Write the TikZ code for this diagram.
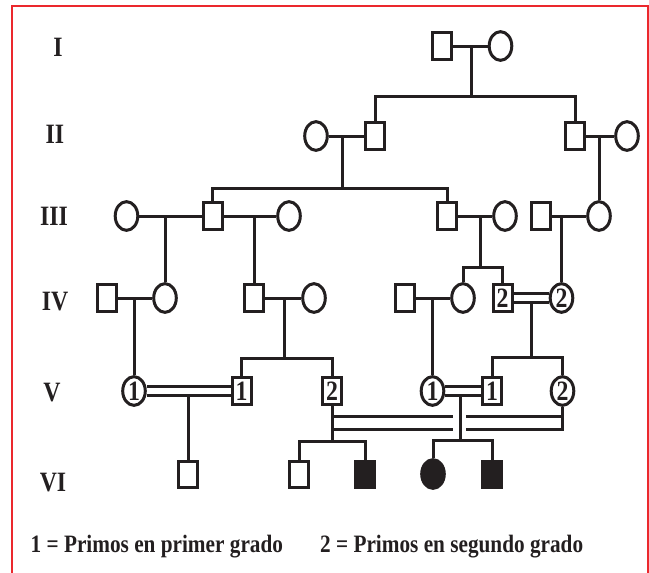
\documentclass[tikz,border=0pt]{standalone}
\usepackage{fontspec}
\newfontfamily\tnr[FakeStretch=0.85]{Liberation Serif}
\usetikzlibrary{shapes.geometric}
\definecolor{ink}{RGB}{35,31,32}
\definecolor{frame}{RGB}{235,40,45}
\begin{document}
\begin{tikzpicture}[x=1pt,y=-1pt,
  lnk/.style={draw=ink, line width=3pt},
  sq/.style={draw=ink, line width=3pt, rectangle, minimum width=19pt, minimum height=26.3pt, inner sep=0pt, fill=white, text=ink, font=\tnr\bfseries\fontsize{28}{30}\selectfont},
  ci/.style={draw=ink, line width=3pt, ellipse, minimum width=22.6pt, minimum height=28.7pt, inner sep=0pt, fill=white, text=ink, font=\tnr\bfseries\fontsize{28}{30}\selectfont},
  aff/.style={fill=ink},
  gen/.style={anchor=base, inner sep=0pt, text=ink, font=\tnr\bfseries\fontsize{28}{30}\selectfont},
  leg/.style={anchor=base west, inner sep=0pt, text=ink, font=\tnr\bfseries\fontsize{25}{27}\selectfont}]
\useasboundingbox (0,0) rectangle (649,573);
\draw[frame, line width=1.6pt] (12,573) -- (12,6) -- (647.9,6) -- (647.9,573);

% generation labels
\node[gen] (gI) at (58,56) {I};
\node[gen] (gII) at (55,143) {II};
\node[gen] (gIII) at (54,225) {III};
\node[gen] (gIV) at (55,310.5) {IV};
\node[gen] (gV) at (52,401.5) {V};
\node[gen] (gVI) at (53,491.5) {VI};

% Gen I
\node[sq] (I1) at (441.5,46) {};
\node[ci] (I2) at (500.5,46) {};
% Gen II
\node[ci] (II1) at (316,136) {};
\node[sq] (II2) at (375,136) {};
\node[sq] (II3) at (575,136) {};
\node[ci] (II4) at (627,136) {};
% Gen III
\node[ci] (III1) at (126.5,216) {};
\node[sq] (III2) at (212.5,216) {};
\node[ci] (III3) at (289,216) {};
\node[sq] (III4) at (447,216) {};
\node[ci] (III5) at (505,216) {};
\node[sq] (III6) at (541,216) {};
\node[ci] (III7) at (599,216) {};
% Gen IV
\node[sq] (IV1) at (107,298) {};
\node[ci] (IV2) at (165,298) {};
\node[sq] (IV3) at (254,298) {};
\node[ci] (IV4) at (314,298) {};
\node[sq] (IV5) at (405,298) {};
\node[ci] (IV6) at (463,298) {};
\node[sq] (IV7) at (502.5,298) {2};
\node[ci] (IV8) at (561.5,298) {2};
% Gen V
\node[ci] (V1) at (134,391) {1};
\node[sq] (V2) at (241.5,391) {1};
\node[sq] (V3) at (332,391) {2};
\node[ci] (V4) at (432.5,391) {1};
\node[sq] (V5) at (492,391) {1};
\node[ci] (V6) at (562.5,391) {2};
% Gen VI
\node[sq] (VI1) at (188,474.5) {};
\node[sq] (VI2) at (299,474.5) {};
\node[sq,aff] (VI3) at (365,474.5) {};
\node[ci,aff] (VI4) at (433,474) {};
\node[sq,aff] (VI5) at (492,474.5) {};

% Gen I links
\draw[lnk] (I1) -- (I2);
\coordinate (mI) at (471,46);
\coordinate (sI) at (471,96);
\draw[lnk] (mI) -- (sI);
\draw[lnk] (II2.north) |- (sI) -| (II3.north);

% Gen II links
\draw[lnk] (II1) -- (II2);
\draw[lnk] (II3) -- (II4);
\coordinate (mII1) at (342,136);
\coordinate (sII1) at (342,188);
\draw[lnk] (mII1) -- (sII1);
\draw[lnk] (III2.north) |- (sII1) -| (III4.north);
\coordinate (mII2) at (599,136);
\draw[lnk] (mII2) -- (III7.north);

% Gen III links
\draw[lnk] (III1) -- (III2);
\draw[lnk] (III2) -- (III3);
\draw[lnk] (III4) -- (III5);
\draw[lnk] (III6) -- (III7);
\coordinate (mIII1) at (165,216);
\draw[lnk] (mIII1) -- (IV2.north);
\coordinate (mIII2) at (254,216);
\draw[lnk] (mIII2) -- (IV3.north);
\coordinate (mIII3) at (480,216);
\coordinate (sIII3) at (480,267);
\draw[lnk] (mIII3) -- (sIII3);
\draw[lnk] (IV6.north) |- (sIII3) -| (IV7.north);
\coordinate (mIII4) at (561.5,216);
\draw[lnk] (mIII4) -- (IV8.north);

% Gen IV links
\draw[lnk] (IV1) -- (IV2);
\draw[lnk] (IV3) -- (IV4);
\draw[lnk] (IV5) -- (IV6);
\draw[lnk] ([yshift=4.2pt]IV7.east) -- ([yshift=4.2pt]IV8.west);
\draw[lnk] ([yshift=-4.2pt]IV7.east) -- ([yshift=-4.2pt]IV8.west);
\coordinate (mIV1) at (134,298);
\draw[lnk] (mIV1) -- (V1.north);
\coordinate (mIV2) at (284,298);
\coordinate (sIV2) at (284,358.5);
\draw[lnk] (mIV2) -- (sIV2);
\draw[lnk] (V2.north) |- (sIV2) -| (V3.north);
\coordinate (mIV3) at (432.5,298);
\draw[lnk] (mIV3) -- (V4.north);
\coordinate (mIV4) at (531.5,302.2);
\coordinate (sIV4) at (531.5,357.5);
\draw[lnk] (mIV4) -- (sIV4);
\draw[lnk] (V5.north) |- (sIV4) -| (V6.north);

% Gen V links
\draw[lnk] ([yshift=4.3pt]V1.east) -- ([yshift=4.3pt]V2.west);
\draw[lnk] ([yshift=-4.3pt]V1.east) -- ([yshift=-4.3pt]V2.west);
\draw[lnk] ([yshift=4.3pt]V4.east) -- ([yshift=4.3pt]V5.west);
\draw[lnk] ([yshift=-4.3pt]V4.east) -- ([yshift=-4.3pt]V5.west);
\coordinate (mV1) at (188,395.3);
\draw[lnk] (mV1) -- (VI1.north);
\coordinate (mV2) at (460.5,395.3);
\coordinate (sV2) at (460.5,440.5);
\draw[lnk] (mV2) -- (sV2);
\draw[lnk] (VI4.north) |- (sV2) -| (VI5.north);

% second-cousin marriage (V3 = V6)
\coordinate (sV3) at (332,441);
\coordinate (uA) at (332,416);
\coordinate (uB) at (453,416);
\coordinate (uC) at (466,416);
\coordinate (uD) at (562.5,416);
\coordinate (lA) at (332,429.5);
\coordinate (lB) at (453,429.5);
\coordinate (lC) at (466,429.5);
\draw[lnk] (V3.south) -- (sV3);
\draw[lnk] (VI2.north) |- (sV3) -| (VI3.north);
\draw[lnk] (uA) -- (uB);
\draw[lnk] (uC) -- (uD);
\draw[lnk] (lA) -- (lB);
\draw[lnk] (lC) -| (V6.south);

% legend
\node[leg] (leg1) at (30.5,552.7) {1 = Primos en primer grado};
\node[leg] (leg2) at (320,552.7) {2 = Primos en segundo grado};
\end{tikzpicture}
\end{document}
